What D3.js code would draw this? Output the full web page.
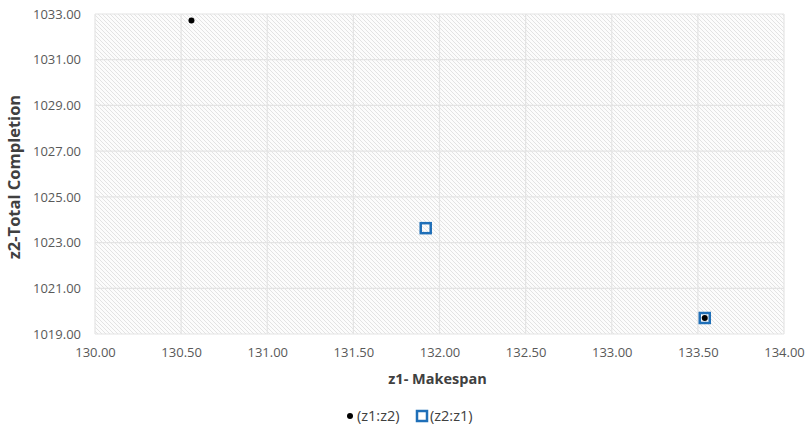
<!DOCTYPE html>
<html>
<head>
<meta charset="utf-8">
<script src="https://cdn.jsdelivr.net/npm/d3@7"></script>
<style>
  body { margin: 0; background: #fff; }
  svg { display: block; font-family: "Open Sans", "Liberation Sans", sans-serif; }
</style>
</head>
<body>
<svg id="chart" width="808" height="431"></svg>
<script>
// Series: (z1:z2) and (z2:z1) solutions, x = makespan, y = total completion
const seriesNames = ["(z1:z2)", "(z2:z1)"];
const z1z2X = [130.56, 133.54];
const z1z2Y = [1032.72, 1019.70];
const z2z1X = [131.92, 133.54];
const z2z1Y = [1023.63, 1019.70];
const xTicks = [130, 130.5, 131, 131.5, 132, 132.5, 133, 133.5, 134];
const yTicks = [1019, 1021, 1023, 1025, 1027, 1029, 1031, 1033];

const svg = d3.select("#chart");
const margin = { left: 95, right: 24, top: 14, bottom: 97 };
const W = 808, H = 431;

const x = d3.scaleLinear().domain([130, 134]).range([margin.left, W - margin.right]);
const y = d3.scaleLinear().domain([1019, 1033]).range([H - margin.bottom, margin.top]);

// diagonal hatch fill for the plot area
const defs = svg.append("defs");
const pat = defs.append("pattern")
  .attr("id", "hatch").attr("patternUnits", "userSpaceOnUse")
  .attr("width", 4).attr("height", 4);
pat.append("rect").attr("width", 4).attr("height", 4).attr("fill", "#fcfcfc");
pat.append("path").attr("d", "M-1,-1 L5,5 M-1,3 L1,5 M3,-1 L5,1")
  .attr("stroke", "#e3e3e3").attr("stroke-width", 1);

svg.append("rect")
  .attr("x", x(130)).attr("y", y(1033))
  .attr("width", x(134) - x(130)).attr("height", y(1019) - y(1033))
  .attr("fill", "url(#hatch)");

// gridlines
svg.append("g").selectAll("line").data(xTicks).join("line")
  .attr("x1", d => x(d)).attr("x2", d => x(d))
  .attr("y1", y(1033)).attr("y2", y(1019))
  .attr("stroke", "#e4e4e4").attr("stroke-width", 1.2);
svg.append("g").selectAll("line").data(yTicks).join("line")
  .attr("x1", x(130)).attr("x2", x(134))
  .attr("y1", d => y(d)).attr("y2", d => y(d))
  .attr("stroke", "#e4e4e4").attr("stroke-width", 1.2);

// axes (labels only)
const xAxis = svg.append("g")
  .attr("transform", `translate(0,${y(1019)})`)
  .call(d3.axisBottom(x).tickValues(xTicks).tickFormat(d3.format(".2f")).tickSize(0).tickPadding(14));
const yAxis = svg.append("g")
  .attr("transform", `translate(${x(130)},0)`)
  .call(d3.axisLeft(y).tickValues(yTicks).tickFormat(d3.format(".2f")).tickSize(0).tickPadding(14));
[xAxis, yAxis].forEach(a => {
  a.select(".domain").remove();
  a.selectAll("text").attr("fill", "#595959").style("font-size", "13px")
    .style("font-family", "'Open Sans', sans-serif");
});

// axis titles
svg.append("text")
  .attr("x", (x(130) + x(134)) / 2 - 2).attr("y", 384)
  .attr("text-anchor", "middle").attr("fill", "#404040")
  .style("font-size", "14.5px").style("font-weight", "bold")
  .text("z1- Makespan");
svg.append("text")
  .attr("transform", `translate(20,${(y(1019) + y(1033)) / 2 + 3}) rotate(-90)`)
  .attr("text-anchor", "middle").attr("fill", "#404040")
  .style("font-size", "16.5px").style("font-weight", "bold")
  .text("z2-Total Completion");

// (z2:z1) squares
const pts2 = z2z1X.map((v, i) => [v, z2z1Y[i]]);
svg.append("g").selectAll("rect").data(pts2).join("rect")
  .attr("x", d => x(d[0]) - 5).attr("y", d => y(d[1]) - 5)
  .attr("width", 10).attr("height", 10)
  .attr("fill", "none").attr("stroke", "#1f6fb8").attr("stroke-width", 2.5);

// (z1:z2) dots
const pts1 = z1z2X.map((v, i) => [v, z1z2Y[i]]);
svg.append("g").selectAll("circle").data(pts1).join("circle")
  .attr("cx", d => x(d[0])).attr("cy", d => y(d[1]))
  .attr("r", 3).attr("fill", "#000");

// legend
const lg = svg.append("g").style("font-size", "14.5px");
lg.append("circle").attr("cx", 350).attr("cy", 416).attr("r", 3).attr("fill", "#000");
lg.append("text").attr("x", 357).attr("y", 421).attr("fill", "#404040").text(seriesNames[0]);
lg.append("rect").attr("x", 417).attr("y", 411).attr("width", 10).attr("height", 10)
  .attr("fill", "none").attr("stroke", "#1f6fb8").attr("stroke-width", 2.5);
lg.append("text").attr("x", 430).attr("y", 421).attr("fill", "#404040").text(seriesNames[1]);
</script>
</body>
</html>
